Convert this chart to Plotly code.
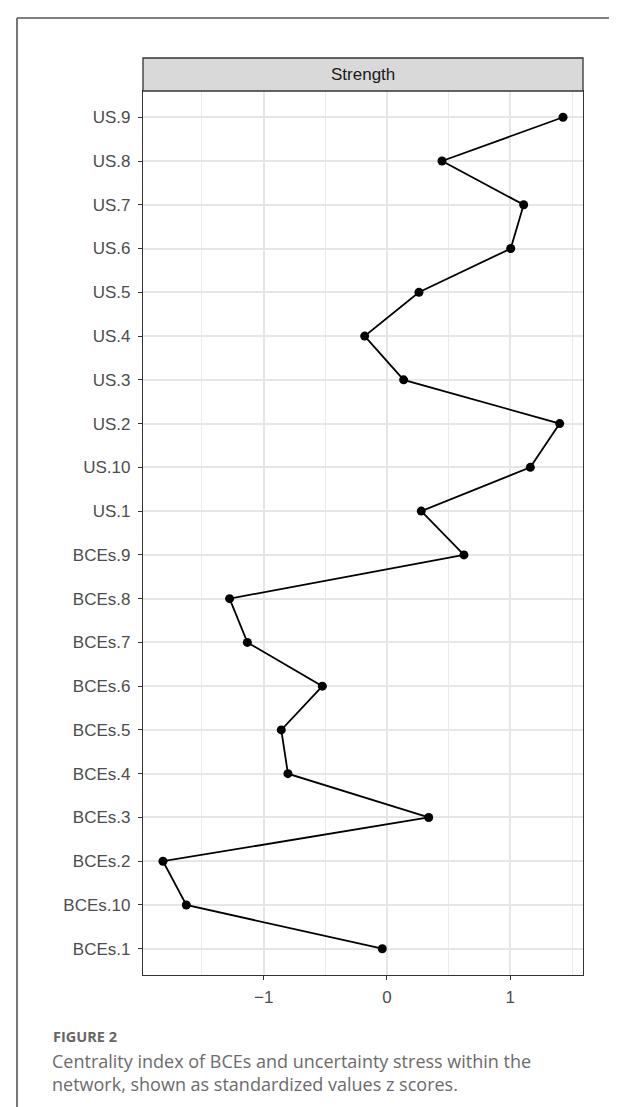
import plotly.graph_objects as go

# Data (bottom to top)
nodes = ["BCEs.1", "BCEs.10", "BCEs.2", "BCEs.3", "BCEs.4", "BCEs.5", "BCEs.6",
         "BCEs.7", "BCEs.8", "BCEs.9", "US.1", "US.10", "US.2", "US.3", "US.4",
         "US.5", "US.6", "US.7", "US.8", "US.9"]
strength = [-0.038, -1.627, -1.816, 0.338, -0.803, -0.857, -0.524,
            -1.132, -1.276, 0.624, 0.278, 1.162, 1.400, 0.135, -0.181,
            0.259, 1.003, 1.108, 0.446, 1.427]
x_ticks = [-1, 0, 1]
x_tick_labels = ["\u22121", "0", "1"]
panel_title = "Strength"
fig_label = "FIGURE 2"
caption_lines = ["Centrality index of BCEs and uncertainty stress within the",
                 "network, shown as standardized values z scores."]

W, H = 617, 1107
L, R, T, B = 135, 575, 83, 967  # plot area in pixels
pw, ph = R - L, B - T

def px(x):
    return (x - L) / pw

def py(y):
    return (B - y) / ph

fig = go.Figure()
fig.add_trace(go.Scatter(
    x=strength, y=nodes, mode="lines+markers",
    line=dict(color="black", width=1.8),
    marker=dict(color="black", size=9),
    showlegend=False, hoverinfo="x+y"))

tick_font = dict(family="Liberation Sans, Arial, sans-serif", size=17, color="#4d4d4d")

fig.update_layout(
    width=W, height=H,
    margin=dict(l=L, r=W - R, t=T, b=H - B),
    paper_bgcolor="white", plot_bgcolor="white",
    xaxis=dict(range=[-1.978, 1.589], tickvals=x_ticks, ticktext=x_tick_labels,
               showgrid=True, gridcolor="#e6e6e6", gridwidth=1.5,
               minor=dict(dtick=0.5, tick0=0, showgrid=True, gridcolor="#ebebeb", gridwidth=1.1),
               zeroline=False, showline=True, mirror=True, linecolor="#333333", linewidth=1.3,
               ticks="outside", ticklen=4, tickcolor="#333333", tickwidth=1.1,
               ticklabelstandoff=2, tickfont=tick_font),
    yaxis=dict(type="category", categoryorder="array", categoryarray=nodes,
               range=[-0.6, len(nodes) - 0.4],
               showgrid=True, gridcolor="#e6e6e6", gridwidth=1.5,
               zeroline=False, showline=True, mirror=True, linecolor="#333333", linewidth=1.3,
               ticks="outside", ticklen=4, tickcolor="#333333", tickwidth=1.1,
               ticklabelstandoff=4, tickfont=tick_font),
)

# strip header
fig.add_shape(type="rect", xref="paper", yref="paper",
              x0=0, x1=1, y0=1, y1=py(50),
              fillcolor="#d9d9d9", line=dict(color="#333333", width=1.3))
fig.add_annotation(xref="paper", yref="paper", x=0.5, y=py(66.5),
                   text=panel_title, showarrow=False,
                   font=dict(family="Liberation Sans, Arial, sans-serif", size=17, color="#1a1a1a"),
                   xanchor="center", yanchor="middle")

# outer frame lines
fig.add_shape(type="line", xref="paper", yref="paper",
              x0=px(9), x1=px(620), y0=py(10), y1=py(10),
              line=dict(color="#555555", width=1.6))
fig.add_shape(type="line", xref="paper", yref="paper",
              x0=px(9), x1=px(9), y0=py(10), y1=py(1110),
              line=dict(color="#555555", width=1.6))

# caption
fig.add_annotation(xref="paper", yref="paper", x=px(43), y=py(1028),
                   text="<b>" + fig_label + "</b>", showarrow=False,
                   font=dict(family="Open Sans, sans-serif", size=14.5, color="#666666"),
                   xanchor="left", yanchor="middle")
for i, line in enumerate(caption_lines):
    fig.add_annotation(xref="paper", yref="paper", x=px(42), y=py(1053 + 23 * i),
                       text=line, showarrow=False,
                       font=dict(family="Open Sans, sans-serif", size=18, color="#6b6b6b"),
                       xanchor="left", yanchor="middle")

fig.write_html("out.html")
